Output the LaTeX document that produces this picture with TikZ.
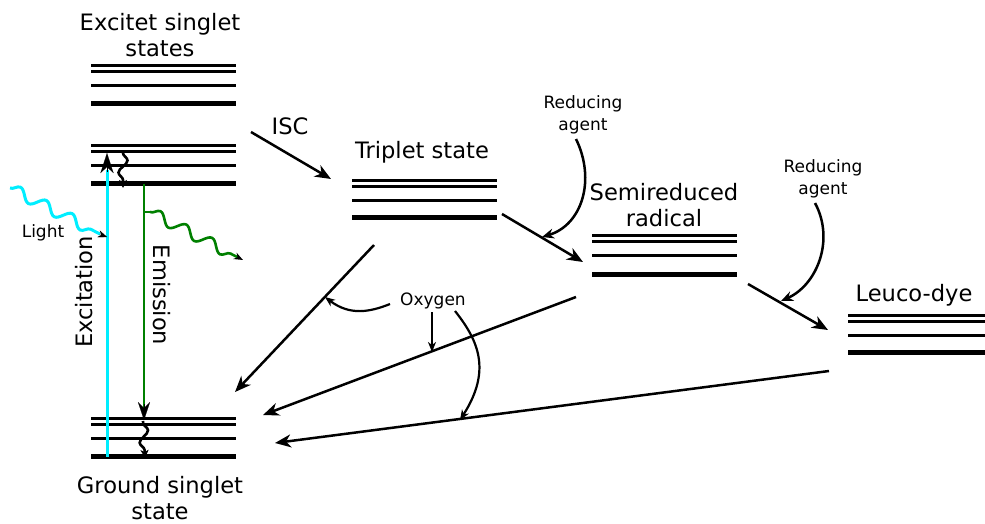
\documentclass[tikz,border=0pt]{standalone}
\usepackage{fontspec}
\setmainfont{DejaVu Sans}
\usetikzlibrary{arrows.meta,decorations.pathmorphing}
\definecolor{lightcyan}{RGB}{0,238,255}
\definecolor{emgreen}{RGB}{0,128,0}
\begin{document}
\begin{tikzpicture}[x=1pt,y=-1pt,
  lvl/.style={line width=3pt},
  lvlthick/.style={line width=5pt},
  big/.style={font=\fontsize{22.6}{25.5}\selectfont, align=center, inner sep=0pt},
  small/.style={font=\fontsize{17}{22}\selectfont, align=center, inner sep=0pt},
  arr/.style={line width=2.5pt, -{Stealth[length=16pt,width=13pt,inset=5pt]}},
  sarr/.style={line width=2.2pt, -{Stealth[length=10pt,width=8pt,inset=3pt]}},
  wave/.style={decorate, decoration={snake, segment length=29pt, amplitude=5.5pt, post length=5pt}},
  squig/.style={line width=2.6pt, -{Stealth[length=8pt,width=8pt,inset=2pt]}, decorate,
    decoration={snake, segment length=24pt, amplitude=4.5pt, pre length=2pt, post length=5pt}},
]
\useasboundingbox[fill=white] (0,0) rectangle (985,523);

% ---------- energy levels ----------
\foreach \y in {65.5,71,85.5} \draw[lvl] (91,\y) -- (236,\y);
\draw[lvlthick] (91,103.5) -- (236,103.5);
\foreach \y in {145.5,151.5,165.5} \draw[lvl] (91,\y) -- (236,\y);
\draw[lvlthick] (91,183.7) -- (236,183.7);
\foreach \y in {418.7,424,438.7} \draw[lvl] (91,\y) -- (236,\y);
\draw[lvlthick] (91,456.7) -- (236,456.7);
\foreach \y in {180,186,200} \draw[lvl] (352,\y) -- (497,\y);
\draw[lvlthick] (352,217.7) -- (497,217.7);
\foreach \y in {235.7,241.2,255.7} \draw[lvl] (592,\y) -- (737,\y);
\draw[lvlthick] (592,274) -- (737,274);
\foreach \y in {315,321,335} \draw[lvl] (848,\y) -- (985,\y);
\draw[lvlthick] (848,352.7) -- (985,352.7);

% ---------- labels ----------
\node[big] (tS) at (160,35) {Excitet singlet\\states};
\node[big] (tG) at (160,498) {Ground singlet\\state};
\node[big] (tISC) at (290,126) {ISC};
\node[big] (tT) at (422,152) {Triplet state};
\node[big] (tR) at (664,205) {Semireduced\\radical};
\node[big] (tL) at (914,295) {Leuco-dye};
\node[small] (ra1) at (583,115) {Reducing\\agent};
\node[small] (ra2) at (823,179) {Reducing\\agent};
\node[small] (tLight) at (43,233) {Light};
\node[small] (tO) at (433,301) {Oxygen};
\node[big, rotate=90] (tExc) at (84,292) {Excitation};
\node[big, rotate=-90] (tEm) at (162,295) {Emission};

% ---------- coordinates ----------
\coordinate (excB) at (107,456.7);
\coordinate (excT) at (107,153);
\coordinate (emT) at (144,183.7);
\coordinate (emB) at (144,420);
\coordinate (icTop) at (123,151);
\coordinate (icBot) at (123,188);
\coordinate (gcTop) at (143,421);
\coordinate (gcBot) at (145,458);
\coordinate (lightS) at (10,188);
\coordinate (lightE) at (107,237);
\coordinate (emwS) at (145,212);
\coordinate (emwE) at (243,260);
\coordinate (iscS) at (251,132);
\coordinate (iscE) at (331,179);
\coordinate (tsS) at (502,214);
\coordinate (tsE) at (583,262);
\coordinate (slS) at (748,284);
\coordinate (slE) at (828,330);
\coordinate (tgS) at (374,245);
\coordinate (tgE) at (235,392);
\coordinate (sgS) at (576,297);
\coordinate (sgE) at (263,415);
\coordinate (lgS) at (829,371);
\coordinate (lgE) at (275,443);
\coordinate (ra1S) at (576,139);
\coordinate (ra1E) at (542,237);
\coordinate (ra2S) at (815,203);
\coordinate (ra2E) at (781,301);
\coordinate (o1S) at (390,304);
\coordinate (o1E) at (325,297);
\coordinate (o2S) at (432,312);
\coordinate (o2E) at (432,352);
\coordinate (o3S) at (455,311);
\coordinate (o3E) at (460,420);

% ---------- excitation / emission ----------
\draw[lightcyan, line width=3pt] (excB) -- (107,170);
\draw[line width=0.1pt, -{Stealth[length=20pt,width=13pt,inset=6pt,black]}] (107,172) -- (excT);
\draw[emgreen, line width=2.4pt] (emT) -- (144,408);
\draw[line width=0.1pt, -{Stealth[length=18pt,width=12pt,inset=6pt,black]}] (144,404) -- (emB);

% internal conversion squiggles
\draw[squig] (icTop) -- (icBot);
\draw[squig] (gcTop) -- (gcBot);

% light wave
\draw[lightcyan, line width=3pt, wave] (lightS) -- (100,234);
\draw[line width=0.1pt, -{Stealth[length=9pt,width=7pt,black]}] (99,234) -- (lightE);
% emitted wave
\draw[emgreen, line width=2.6pt] (emT |- emwS) -- (150,212);
\draw[emgreen, line width=2.6pt, -{Stealth[length=9pt,width=7pt,black]}, wave] (150,212) -- (emwE);

% ---------- main arrows ----------
\draw[arr] (iscS) -- (iscE);
\draw[arr] (tsS) -- (tsE);
\draw[arr] (slS) -- (slE);
\draw[arr] (tgS) -- (tgE);
\draw[arr] (sgS) -- (sgE);
\draw[arr] (lgS) -- (lgE);

% reducing agents
\draw[arr, -{Stealth[length=12pt,width=10pt,inset=4pt]}] (ra1S) .. controls (596,180) and (582,225) .. (ra1E);
\draw[arr, -{Stealth[length=12pt,width=10pt,inset=4pt]}] (ra2S) .. controls (835,240) and (817,285) .. (ra2E);

% oxygen
\draw[sarr] (o1S) .. controls (370,312) and (350,316) .. (o1E);
\draw[sarr] (o2S) -- (o2E);
\draw[sarr] (o3S) .. controls (478,340) and (492,370) .. (o3E);
\end{tikzpicture}
\end{document}
